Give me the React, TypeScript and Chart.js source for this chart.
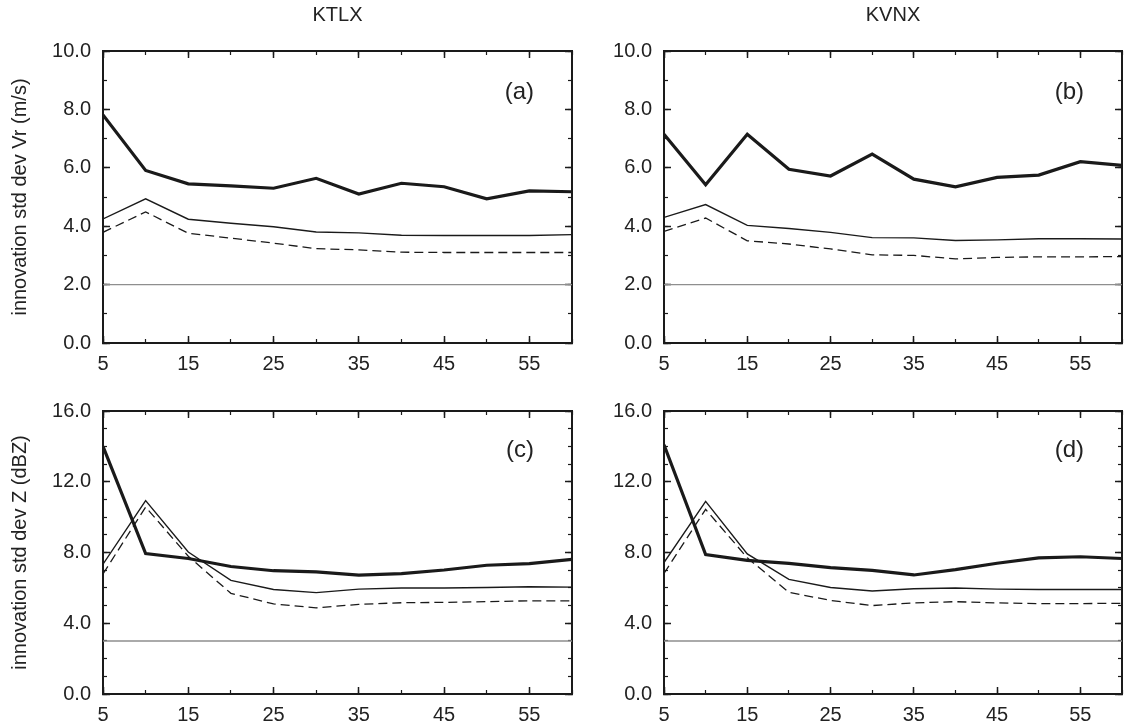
import React, { useEffect, useRef } from 'react';
import { Chart, registerables } from 'chart.js';

Chart.register(...registerables);

// ---- data ----
const cycleMinutes = [5, 10, 15, 20, 25, 30, 35, 40, 45, 50, 55, 60];
const xTickLabels = [5, 15, 25, 35, 45, 55];
const vrTickLabels = [0, 2, 4, 6, 8, 10];
const zTickLabels = [0, 4, 8, 12, 16];
const radarTitles = ['KTLX', 'KVNX'];
const panelTags = ['(a)', '(b)', '(c)', '(d)'];

const vrObsError = 2.0;
const zObsError = 3.0;

// KTLX radial velocity (a)
const ktlxVrInnov = [7.81, 5.91, 5.45, 5.38, 5.3, 5.64, 5.1, 5.47, 5.35, 4.94, 5.21, 5.18];
const ktlxVrExpected = [4.25, 4.94, 4.24, 4.1, 3.98, 3.8, 3.77, 3.69, 3.68, 3.68, 3.68, 3.71];
const ktlxVrSpread = [3.79, 4.49, 3.76, 3.59, 3.42, 3.23, 3.19, 3.11, 3.1, 3.1, 3.1, 3.1];

// KVNX radial velocity (b)
const kvnxVrInnov = [7.15, 5.42, 7.15, 5.95, 5.72, 6.47, 5.61, 5.35, 5.67, 5.75, 6.21, 6.08];
const kvnxVrExpected = [4.3, 4.74, 4.03, 3.92, 3.79, 3.61, 3.6, 3.51, 3.53, 3.57, 3.57, 3.56];
const kvnxVrSpread = [3.82, 4.28, 3.5, 3.39, 3.22, 3.02, 3.0, 2.88, 2.93, 2.95, 2.95, 2.96];

// KTLX reflectivity (c)
const ktlxZInnov = [14.0, 7.94, 7.66, 7.21, 6.97, 6.9, 6.72, 6.81, 7.01, 7.28, 7.37, 7.61];
const ktlxZExpected = [7.34, 10.93, 8.03, 6.42, 5.91, 5.73, 5.93, 5.99, 5.99, 6.02, 6.06, 6.04];
const ktlxZSpread = [6.79, 10.57, 7.79, 5.69, 5.09, 4.87, 5.07, 5.16, 5.18, 5.22, 5.27, 5.27];

// KVNX reflectivity (d)
const kvnxZInnov = [14.09, 7.88, 7.55, 7.39, 7.15, 6.99, 6.73, 7.03, 7.39, 7.7, 7.76, 7.66];
const kvnxZExpected = [7.43, 10.89, 7.92, 6.48, 6.02, 5.82, 5.95, 5.99, 5.93, 5.91, 5.91, 5.91];
const kvnxZSpread = [6.82, 10.44, 7.7, 5.75, 5.29, 5.0, 5.15, 5.22, 5.15, 5.11, 5.11, 5.13];

// ---- styling ----
const INK = '#1a1a1a';
const TEXT = '#222222';
const FONT_FAMILY = '"Liberation Sans", Arial, Helvetica, sans-serif';
const X_MIN = 5;
const X_MAX = 60;

function range(a: number, b: number, step: number) {
  const out: number[] = [];
  for (let v = a; v <= b + 1e-9; v += step) out.push(v);
  return out;
}

type PanelSpec = {
  left: number;
  top: number;
  width: number;
  height: number;
  yWidth: number;
  xHeight: number;
  padTop: number;
  padRight: number;
  title?: string;
  yTitle?: string;
  tag: string;
  yMax: number;
  yMajor: number[];
  yMinorStep: number;
  innov: number[];
  expected: number[];
  spread: number[];
  obsError: number;
};

function pts(vals: number[]) {
  return cycleMinutes.map((x, i) => ({ x, y: vals[i] }));
}

function axisPair(
  id: string,
  position: 'left' | 'right' | 'top' | 'bottom',
  min: number,
  max: number,
  majorTicks: number[],
  minorTicks: number[],
  size: number,
  extra: any
) {
  const horizontal = position === 'top' || position === 'bottom';
  const fitter = (s: number) => (scale: any) => {
    if (horizontal) scale.height = s;
    else scale.width = s;
  };
  const major: any = {
    type: 'linear',
    position,
    min,
    max,
    weight: 1,
    afterBuildTicks: (scale: any) => {
      scale.ticks = majorTicks.map((v) => ({ value: v }));
    },
    grid: {
      display: true,
      drawOnChartArea: false,
      drawTicks: true,
      tickLength: -7,
      tickWidth: 1.5,
      tickColor: INK,
    },
    border: { display: true, color: INK, width: 2 },
    ticks: { display: false },
    afterFit: fitter(size),
    ...extra,
  };
  const minor: any = {
    type: 'linear',
    position,
    min,
    max,
    weight: 0,
    afterBuildTicks: (scale: any) => {
      scale.ticks = minorTicks.map((v) => ({ value: v }));
    },
    grid: {
      display: true,
      drawOnChartArea: false,
      drawTicks: true,
      tickLength: -4,
      tickWidth: 1.2,
      tickColor: INK,
    },
    border: { display: false },
    ticks: { display: false },
    afterFit: fitter(0),
  };
  return { [id]: major, [id + 'Minor']: minor };
}

function buildConfig(p: PanelSpec): any {
  const tickFont = { family: FONT_FAMILY, size: 20 };
  const xMinor = range(X_MIN, X_MAX, 5);
  const yMinor = range(0, p.yMax, p.yMinorStep);

  const scales: any = {
    ...axisPair('x', 'bottom', X_MIN, X_MAX, xTickLabels, xMinor, p.xHeight, {
      ticks: {
        display: true,
        autoSkip: false,
        maxRotation: 0,
        padding: 16,
        color: TEXT,
        font: tickFont,
        callback: (v: number) => String(v),
      },
    }),
    ...axisPair('xTop', 'top', X_MIN, X_MAX, xTickLabels, xMinor, 0, {}),
    ...axisPair('y', 'left', 0, p.yMax, p.yMajor, yMinor, p.yWidth, {
      ticks: {
        display: true,
        autoSkip: false,
        padding: 19,
        color: TEXT,
        font: tickFont,
        callback: (v: number) => Number(v).toFixed(1),
      },
      title: p.yTitle
        ? {
            display: true,
            text: p.yTitle,
            color: TEXT,
            font: { family: FONT_FAMILY, size: 20 },
            padding: { top: 8, bottom: 0 },
          }
        : { display: false },
    }),
    ...axisPair('yRight', 'right', 0, p.yMax, p.yMajor, yMinor, 0, {}),
  };

  const tagPlugin = {
    id: 'panelTag',
    afterDraw(chart: any) {
      const { ctx, chartArea } = chart;
      ctx.save();
      ctx.font = `24px ${FONT_FAMILY}`;
      ctx.fillStyle = TEXT;
      ctx.textAlign = 'right';
      ctx.textBaseline = 'middle';
      const yScale = chart.scales.y;
      ctx.fillText(p.tag, chartArea.right - 38, yScale.getPixelForValue(p.yMax * 0.86));
      ctx.restore();
    },
  };

  return {
    type: 'line',
    data: {
      datasets: [
        {
          data: pts(cycleMinutes.map(() => p.obsError)),
          borderColor: '#8e8e8e',
          borderWidth: 1.4,
          pointRadius: 0,
        },
        {
          data: pts(p.spread),
          borderColor: INK,
          borderWidth: 1.3,
          borderDash: [9, 5],
          pointRadius: 0,
        },
        {
          data: pts(p.expected),
          borderColor: INK,
          borderWidth: 1.4,
          pointRadius: 0,
        },
        {
          data: pts(p.innov),
          borderColor: INK,
          borderWidth: 3.2,
          pointRadius: 0,
        },
      ],
    },
    options: {
      responsive: false,
      animation: false,
      events: [],
      layout: { padding: { top: p.padTop, right: p.padRight, left: 0, bottom: 0 } },
      elements: { line: { tension: 0 } },
      plugins: {
        legend: { display: false },
        tooltip: { enabled: false },
        title: p.title
          ? {
              display: true,
              text: p.title,
              fullSize: false,
              color: TEXT,
              font: { family: FONT_FAMILY, size: 20, weight: 'normal' },
              padding: { top: 3, bottom: 24 },
            }
          : { display: false },
      },
      scales,
    },
    plugins: [tagPlugin],
  };
}

const panels: PanelSpec[] = [
  {
    left: 0, top: 0, width: 590, height: 380, yWidth: 103, xHeight: 37, padTop: 0, padRight: 18,
    title: radarTitles[0], yTitle: 'innovation std dev Vr (m/s)', tag: panelTags[0],
    yMax: 10, yMajor: vrTickLabels, yMinorStep: 1,
    innov: ktlxVrInnov, expected: ktlxVrExpected, spread: ktlxVrSpread, obsError: vrObsError,
  },
  {
    left: 561, top: 0, width: 573, height: 380, yWidth: 103, xHeight: 37, padTop: 0, padRight: 12,
    title: radarTitles[1], tag: panelTags[1],
    yMax: 10, yMajor: vrTickLabels, yMinorStep: 1,
    innov: kvnxVrInnov, expected: kvnxVrExpected, spread: kvnxVrSpread, obsError: vrObsError,
  },
  {
    left: 0, top: 380, width: 590, height: 347, yWidth: 103, xHeight: 33, padTop: 22, padRight: 18,
    yTitle: 'innovation std dev Z (dBZ)', tag: panelTags[2],
    yMax: 16, yMajor: zTickLabels, yMinorStep: 1,
    innov: ktlxZInnov, expected: ktlxZExpected, spread: ktlxZSpread, obsError: zObsError,
  },
  {
    left: 561, top: 380, width: 573, height: 347, yWidth: 103, xHeight: 33, padTop: 22, padRight: 12,
    tag: panelTags[3],
    yMax: 16, yMajor: zTickLabels, yMinorStep: 1,
    innov: kvnxZInnov, expected: kvnxZExpected, spread: kvnxZSpread, obsError: zObsError,
  },
];

function Panel({ spec }: { spec: PanelSpec }) {
  const ref = useRef<HTMLCanvasElement | null>(null);
  useEffect(() => {
    if (!ref.current) return;
    const chart = new Chart(ref.current, buildConfig(spec));
    return () => chart.destroy();
  }, [spec]);
  return (
    <div style={{ position: 'absolute', left: spec.left, top: spec.top, width: spec.width, height: spec.height }}>
      <canvas ref={ref} width={spec.width} height={spec.height} style={{ display: 'block', width: spec.width, height: spec.height }} />
    </div>
  );
}

export default function App() {
  return (
    <div style={{ position: 'fixed', left: 0, top: 0, width: 1134, height: 727, background: '#ffffff', overflow: 'hidden' }}>
      {panels.map((p, i) => (
        <Panel key={i} spec={p} />
      ))}
    </div>
  );
}
